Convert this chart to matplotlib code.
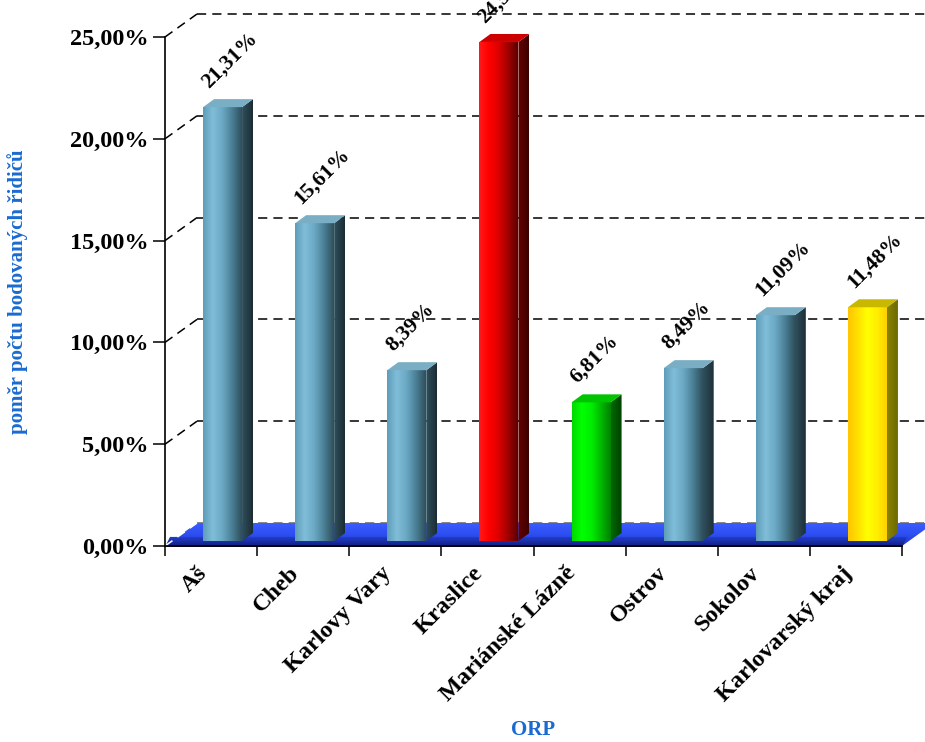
import matplotlib
matplotlib.use("Agg")
import matplotlib.pyplot as plt
import numpy as np
from matplotlib.patches import Polygon
from matplotlib.colors import LinearSegmentedColormap

categories = ["Aš", "Cheb", "Karlovy Vary", "Kraslice", "Mariánské Lázně",
              "Ostrov", "Sokolov", "Karlovarský kraj"]
values = [21.31, 15.61, 8.39, 24.51, 6.81, 8.49, 11.09, 11.48]
labels = ["21,31%", "15,61%", "8,39%", "24,51%", "6,81%", "8,49%", "11,09%", "11,48%"]
bar_styles = ["blue", "blue", "blue", "red", "green", "blue", "blue", "yellow"]
yticks = [0, 5, 10, 15, 20, 25]
ytick_labels = ["0,00%", "5,00%", "10,00%", "15,00%", "20,00%", "25,00%"]

palettes = {
    "blue": dict(front=["#5f9cb8", "#80bdd8", "#6ba8c3", "#4a7f95", "#2f4e5b"],
                 side=["#30505d", "#1b2c34"], top="#79aec4"),
    "red": dict(front=["#ff1a1a", "#ff0000", "#dd0000", "#a00000", "#5a0000"],
                side=["#6a0000", "#3a0000"], top="#cc0000"),
    "green": dict(front=["#00d800", "#00ff00", "#00ee00", "#00b800", "#008000"],
                  side=["#006a00", "#004000"], top="#00c400"),
    "yellow": dict(front=["#ffc400", "#ffe000", "#ffff00", "#ffee00", "#ffd000"],
                   side=["#8a8400", "#6a6600"], top="#c8b800"),
}

DPI = 100
fig = plt.figure(figsize=(9.25, 7.42), dpi=DPI)
W, H = 925, 742
ax_l, ax_r, ax_b, ax_t = 165, 902, 546, 37
ax = fig.add_axes([ax_l / W, (H - ax_b) / H, (ax_r - ax_l) / W, (ax_b - ax_t) / H])
n = len(categories)
ax.set_xlim(0, n)
ax.set_ylim(0, 25)
ax.patch.set_alpha(0)

px_x = (ax_r - ax_l) / n          # pixels per category
px_y = (ax_b - ax_t) / 25.0       # pixels per percent
back_dx, back_dy = 32 / px_x, 23 / px_y
front_dx, front_dy = 11.5 / px_x, 5 / px_y
depth_dx, depth_dy = 11 / px_x, 8 / px_y
bar_w = 39 / px_x


def grad_poly(pts, colors, horizontal=True, z=3):
    pts = np.asarray(pts)
    patch = Polygon(pts, closed=True, facecolor="none", edgecolor="none",
                    zorder=z, clip_on=False)
    ax.add_patch(patch)
    cmap = LinearSegmentedColormap.from_list("g", colors)
    g = np.linspace(0, 1, 256)
    data = g[None, :] if horizontal else g[:, None]
    x0, x1 = pts[:, 0].min(), pts[:, 0].max()
    y0, y1 = pts[:, 1].min(), pts[:, 1].max()
    im = ax.imshow(data, cmap=cmap, extent=(x0, x1, y0, y1), origin="lower",
                   aspect="auto", zorder=z, interpolation="bilinear")
    im.set_clip_box(fig.bbox)
    im.set_clip_path(patch)
    return im


# floor (slab)
floor_top = [(0, 0), (n, 0), (n + back_dx, back_dy), (back_dx, back_dy)]
grad_poly(floor_top, ["#1c36c8", "#2d4ef0", "#3a5cff"], horizontal=False, z=1)
slab = [(0, -0.05), (n, -0.05), (n + 5 / px_x, 0.25 + 4 / px_y), (5 / px_x, 0.25 + 4 / px_y)]
grad_poly(slab, ["#0c1a70", "#1a2ea8", "#2440d0"], horizontal=False, z=1.1)
ax.set_xlim(0, n)
ax.set_ylim(0, 25)

# gridlines on back wall and left wall
for t in yticks:
    col = "#666666" if t == 0 else "black"
    lcol = "white" if t == 0 else "black"
    ax.plot([0, back_dx], [t, t + back_dy], color=lcol, lw=1.1,
            dashes=(6, 4), clip_on=False, zorder=1.5)
    ax.plot([back_dx, n + back_dx], [t + back_dy, t + back_dy], color=col,
            lw=1.1, dashes=(6, 4), clip_on=False, zorder=0.5 if t else 1.2)

# bars
for i, (v, st, lab) in enumerate(zip(values, bar_styles, labels)):
    p = palettes[st]
    xl = i + 0.5 + front_dx - bar_w / 2
    xr = xl + bar_w
    yb = front_dy
    yt = v + front_dy
    grad_poly([(xl, yb), (xr, yb), (xr, yt), (xl, yt)], p["front"], z=3)
    grad_poly([(xr, yb), (xr + depth_dx, yb + depth_dy),
               (xr + depth_dx, yt + depth_dy), (xr, yt)], p["side"], z=3)
    ax.add_patch(Polygon([(xl, yt), (xr, yt), (xr + depth_dx, yt + depth_dy),
                          (xl + depth_dx, yt + depth_dy)], closed=True,
                         facecolor=p["top"], edgecolor="none", zorder=3,
                         clip_on=False))
    ax.text(xl - 5 / px_x, yt + depth_dy + 0.35, lab, rotation=45,
            ha="left", va="bottom", fontsize=15.5, fontweight="bold",
            family="Liberation Serif", zorder=5, clip_on=False)

ax.set_xlim(0, n)
ax.set_ylim(0, 25)

# axes styling
for s in ["top", "right"]:
    ax.spines[s].set_visible(False)
ax.spines["left"].set_linewidth(1.2)
ax.spines["bottom"].set_linewidth(1.2)
ax.spines["left"].set_zorder(4)
ax.spines["bottom"].set_zorder(4)
ax.set_yticks(yticks, ytick_labels)
ax.tick_params(axis="y", length=8.6, width=1.1, pad=3.5, labelsize=17.5)
ax.set_xticks(np.arange(n + 1), [""] * (n + 1))
ax.set_xticks(np.arange(n) + 0.5, categories, minor=True)
ax.tick_params(axis="x", which="major", length=7.2, width=1.1)
ax.tick_params(axis="x", which="minor", length=0, pad=12, labelsize=17.5)
for lab in ax.get_yticklabels() + ax.get_xticklabels(minor=True):
    lab.set_family("Liberation Serif")
    lab.set_fontweight("bold")
for lab in ax.get_xticklabels(minor=True):
    lab.set_rotation(45)
    lab.set_ha("right")
    lab.set_va("top")
    lab.set_rotation_mode("default")

fig.text(18 / W, 1 - 292 / H, "poměr počtu bodovaných řidičů", rotation=90,
         ha="center", va="center", color="#1a6ad0", fontsize=15,
         fontweight="bold", family="Liberation Serif")
fig.text(533 / W, 1 - 730 / H, "ORP", ha="center", va="center",
         color="#1a6ad0", fontsize=15, fontweight="bold",
         family="Liberation Serif")

fig.savefig("out.png", dpi=DPI)
